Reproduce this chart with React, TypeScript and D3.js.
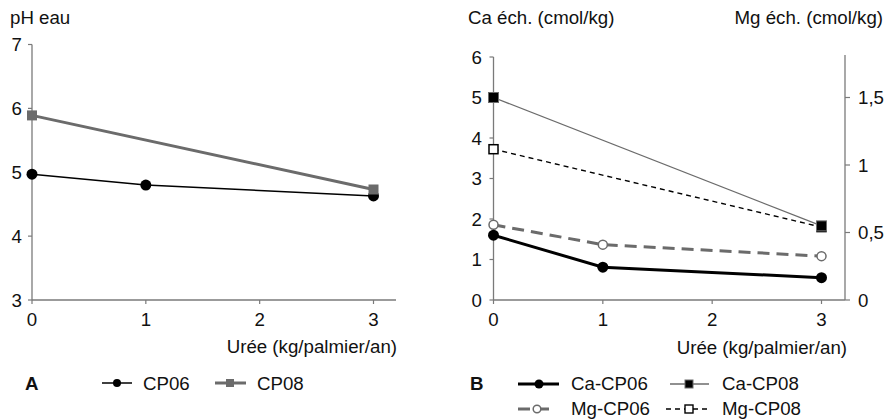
import React from "react";
import * as d3 from "d3";

const doses = [0, 1, 3];
const phCP06 = [4.97, 4.8, 4.63];
const phCP08dose = [0, 3];
const phCP08 = [5.89, 4.73];
const caCP06 = [1.6, 0.81, 0.55];
const caCP08dose = [0, 3];
const caCP08 = [5.0, 1.83];
const mgCP06 = [0.557, 0.41, 0.325];
const mgCP08dose = [0, 3];
const mgCP08 = [1.117, 0.54];
const xTicks = [0, 1, 2, 3];
const phTicks = [3, 4, 5, 6, 7];
const caTicks = [0, 1, 2, 3, 4, 5, 6];
const mgTicks = [0, 0.5, 1, 1.5];

const FONT = "'Liberation Sans', Arial, Helvetica, sans-serif";
const AX = "#7a7a7a";
const GRAY = "#6b6b6b";
const FS = 18.7;

type Pt = [number, number];

export default function App() {
  const xA = d3.scaleLinear().domain([0, 3]).range([32, 373.5]);
  const yA = d3.scaleLinear().domain([3, 7]).range([300, 44.5]);
  const xB = d3.scaleLinear().domain([0, 3]).range([493.5, 821.5]);
  const yCa = d3.scaleLinear().domain([0, 6]).range([300, 57]);
  const yMg = d3.scaleLinear().domain([0, 1.8]).range([300, 57]);

  const line = d3.line<Pt>().x((d) => d[0]).y((d) => d[1]);

  const ptsA06: Pt[] = doses.map((d, i) => [xA(d), yA(phCP06[i])]);
  const ptsA08: Pt[] = phCP08dose.map((d, i) => [xA(d), yA(phCP08[i])]);
  const ptsCa06: Pt[] = doses.map((d, i) => [xB(d), yCa(caCP06[i])]);
  const ptsCa08: Pt[] = caCP08dose.map((d, i) => [xB(d), yCa(caCP08[i])]);
  const ptsMg06: Pt[] = doses.map((d, i) => [xB(d), yMg(mgCP06[i])]);
  const ptsMg08: Pt[] = mgCP08dose.map((d, i) => [xB(d), yMg(mgCP08[i])]);

  const txt = { fontFamily: FONT, fontSize: FS, fill: "#111" } as const;

  return (
    <svg width={886} height={419} style={{ position: "absolute", left: 0, top: 0, background: "#fff" }}>
      {/* ===== Panel A ===== */}
      <text x={10} y={24} {...txt}>pH eau</text>
      <line x1={xA(0)} x2={xA(0)} y1={yA(7)} y2={yA(3)} stroke={AX} strokeWidth={1.3} />
      {phTicks.map((t) => (
        <g key={"pa" + t}>
          <line x1={xA(0) - 4} x2={xA(0)} y1={yA(t)} y2={yA(t)} stroke={AX} strokeWidth={1.2} />
          <text x={22} y={yA(t)} textAnchor="end" dominantBaseline="central" {...txt}>{t}</text>
        </g>
      ))}
      <line x1={xA(0)} x2={396} y1={yA(3)} y2={yA(3)} stroke={AX} strokeWidth={1.3} />
      {xTicks.map((t) => (
        <g key={"xa" + t}>
          <line x1={xA(t)} x2={xA(t)} y1={yA(3)} y2={yA(3) + 4} stroke={AX} strokeWidth={1.2} />
          <text x={xA(t)} y={326} textAnchor="middle" {...txt}>{t}</text>
        </g>
      ))}
      <text x={397} y={353} textAnchor="end" {...txt}>Urée (kg/palmier/an)</text>
      <path d={line(ptsA08)!} fill="none" stroke={GRAY} strokeWidth={3} />
      <path d={line(ptsA06)!} fill="none" stroke="#000" strokeWidth={1.5} />
      {ptsA06.map((p, i) => (
        <circle key={"a06" + i} cx={p[0]} cy={p[1]} r={5.5} fill="#000" />
      ))}
      {ptsA08.map((p, i) => (
        <rect key={"a08" + i} x={p[0] - 5} y={p[1] - 5} width={10} height={10} fill={GRAY} />
      ))}
      <text x={25} y={390} {...txt} fontWeight="bold">A</text>
      <line x1={102} x2={132} y1={383} y2={383} stroke="#000" strokeWidth={1.5} />
      <circle cx={117} cy={383} r={4} fill="#000" />
      <text x={143} y={390} {...txt}>CP06</text>
      <line x1={215} x2={246} y1={383} y2={383} stroke={GRAY} strokeWidth={3} />
      <rect x={226} y={379} width={8} height={8} fill={GRAY} />
      <text x={257} y={390} {...txt}>CP08</text>

      {/* ===== Panel B ===== */}
      <text x={468} y={24} {...txt}>Ca éch. (cmol/kg)</text>
      <text x={883} y={24} textAnchor="end" {...txt}>Mg éch. (cmol/kg)</text>
      <line x1={xB(0)} x2={xB(0)} y1={yCa(6)} y2={yCa(0)} stroke={AX} strokeWidth={1.3} />
      {caTicks.map((t) => (
        <g key={"ca" + t}>
          <line x1={xB(0) - 4} x2={xB(0)} y1={yCa(t)} y2={yCa(t)} stroke={AX} strokeWidth={1.2} />
          <text x={482} y={yCa(t)} textAnchor="end" dominantBaseline="central" {...txt}>{t}</text>
        </g>
      ))}
      <line x1={845} x2={845} y1={55} y2={yMg(0)} stroke={AX} strokeWidth={1.3} />
      {mgTicks.map((t) => (
        <g key={"mg" + t}>
          <line x1={845} x2={850} y1={yMg(t)} y2={yMg(t)} stroke={AX} strokeWidth={1.2} />
          <text x={858} y={yMg(t)} dominantBaseline="central" {...txt}>{String(t).replace(".", ",")}</text>
        </g>
      ))}
      <line x1={xB(0)} x2={845} y1={yCa(0)} y2={yCa(0)} stroke={AX} strokeWidth={1.3} />
      {xTicks.map((t) => (
        <g key={"xb" + t}>
          <line x1={xB(t)} x2={xB(t)} y1={yCa(0)} y2={yCa(0) + 4} stroke={AX} strokeWidth={1.2} />
          <text x={xB(t)} y={326} textAnchor="middle" {...txt}>{t}</text>
        </g>
      ))}
      <text x={847} y={354} textAnchor="end" {...txt}>Urée (kg/palmier/an)</text>
      <path d={line(ptsCa08)!} fill="none" stroke={GRAY} strokeWidth={1.3} />
      <path d={line(ptsMg08)!} fill="none" stroke="#000" strokeWidth={1.4} strokeDasharray="5,4" />
      <path d={line(ptsMg06)!} fill="none" stroke={GRAY} strokeWidth={3} strokeDasharray="12,7" />
      <path d={line(ptsCa06)!} fill="none" stroke="#000" strokeWidth={3} />
      {ptsMg06.map((p, i) => (
        <circle key={"m06" + i} cx={p[0]} cy={p[1]} r={4.5} fill="#fff" stroke={GRAY} strokeWidth={1.5} />
      ))}
      {ptsCa06.map((p, i) => (
        <circle key={"c06" + i} cx={p[0]} cy={p[1]} r={5.5} fill="#000" />
      ))}
      {ptsMg08.map((p, i) => (
        <rect key={"m08" + i} x={p[0] - 4.5} y={p[1] - 4.5} width={9} height={9} fill="#fff" stroke="#000" strokeWidth={1.5} />
      ))}
      {ptsCa08.map((p, i) => (
        <rect key={"c08" + i} x={p[0] - 5} y={p[1] - 5} width={10} height={10} fill="#000" stroke={GRAY} strokeWidth={1} />
      ))}
      <text x={470} y={390} {...txt} fontWeight="bold">B</text>
      <line x1={518} x2={559} y1={384} y2={384} stroke="#000" strokeWidth={3} />
      <circle cx={539} cy={384} r={4.5} fill="#000" />
      <text x={571} y={390} {...txt}>Ca-CP06</text>
      <line x1={670} x2={709} y1={384} y2={384} stroke={GRAY} strokeWidth={1.3} />
      <rect x={685} y={380} width={8} height={8} fill="#000" stroke={GRAY} strokeWidth={1} />
      <text x={722} y={390} {...txt}>Ca-CP08</text>

      <line x1={518} x2={530} y1={409} y2={409} stroke={GRAY} strokeWidth={3} />
      <line x1={536} x2={549} y1={409} y2={409} stroke={GRAY} strokeWidth={3} />
      <circle cx={537} cy={409} r={3.8} fill="#fff" stroke={GRAY} strokeWidth={1.5} />
      <text x={571} y={415} {...txt}>Mg-CP06</text>
      <line x1={666} x2={711} y1={409} y2={409} stroke="#000" strokeWidth={1.4} strokeDasharray="5,4" />
      <rect x={685} y={405} width={8} height={8} fill="#fff" stroke="#000" strokeWidth={1.4} />
      <text x={722} y={415} {...txt}>Mg-CP08</text>
    </svg>
  );
}
